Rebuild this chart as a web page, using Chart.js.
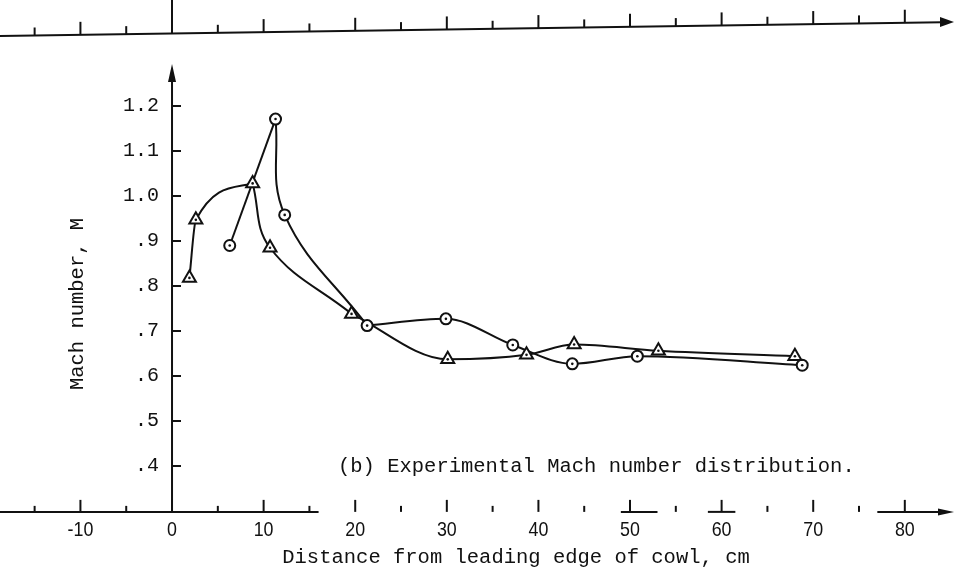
<!DOCTYPE html>
<html>
<head>
<meta charset="utf-8">
<script src="https://cdn.jsdelivr.net/npm/chart.js@4.4.1/dist/chart.umd.min.js"></script>
<style>
    html, body { margin: 0; padding: 0; background: #fff; }
    #wrap { width: 954px; height: 572px; }
</style>
</head>
<body>
<div id="wrap"><canvas id="machChart" width="954" height="572"></canvas></div>
<script>
// triangles
const triDist = [1.9, 2.6, 8.8, 10.7, 19.6, 30.1, 38.7, 43.9, 53.1, 68.0];
const triMach = [0.818, 0.947, 1.028, 0.885, 0.738, 0.637, 0.647, 0.670, 0.656, 0.644];
// circles
const cirDist = [6.3, 11.3, 12.3, 21.3, 29.9, 37.2, 43.7, 50.8, 68.8];
const cirMach = [0.890, 1.171, 0.958, 0.712, 0.727, 0.669, 0.627, 0.644, 0.624];

const xTickValues = [-10, 0, 10, 20, 30, 40, 50, 60, 70, 80];
const yTickValues = [0.4, 0.5, 0.6, 0.7, 0.8, 0.9, 1.0, 1.1, 1.2];
const yTickLabels = ['.4', '.5', '.6', '.7', '.8', '.9', '1.0', '1.1', '1.2'];

const xTitle = 'Distance from leading edge of cowl, cm';
const yTitle = 'Mach number, M';
const note = '(b) Experimental Mach number distribution.';

const INK = '#111';
const MONO = '"Liberation Mono", "DejaVu Sans Mono", monospace';
const AXIS_LEVEL = 0.298;   // Mach value where the distance axis sits

const pts = (xs, ys) => xs.map((x, i) => ({ x: x, y: ys[i] }));
const triPts = pts(triDist, triMach);
const cirPts = pts(cirDist, cirMach);

// the hand-drawn curves have corners at some points, so each one is split in pieces
const lineSet = (data, spline) => ({
    data: data,
    showLine: true,
    borderColor: INK,
    borderWidth: 2,
    pointRadius: 0,
    cubicInterpolationMode: spline ? 'default' : 'monotone',
    tension: spline ? 0.4 : 0,
    order: 3
});

function line(ctx, x1, y1, x2, y2) {
    ctx.beginPath();
    ctx.moveTo(x1, y1);
    ctx.lineTo(x2, y2);
    ctx.stroke();
}

function arrowHead(ctx, tx, ty, dir, len, half) {
    ctx.beginPath();
    if (dir === 'up') {
        ctx.moveTo(tx, ty);
        ctx.lineTo(tx - half, ty + len);
        ctx.lineTo(tx + half, ty + len);
    } else {
        ctx.moveTo(tx, ty);
        ctx.lineTo(tx - len, ty - half);
        ctx.lineTo(tx - len, ty + half);
    }
    ctx.closePath();
    ctx.fill();
}

const decor = {
    id: 'decor',
    beforeDatasetsDraw(chart) {
        const { ctx, width } = chart;
        const xs = chart.scales.x, ys = chart.scales.y;
        const x0 = xs.getPixelForValue(0);
        const yBase = ys.getPixelForValue(AXIS_LEVEL);

        ctx.save();
        ctx.strokeStyle = INK;
        ctx.fillStyle = INK;
        ctx.lineWidth = 2;

        // slanted axis of the panel above
        const topY = px => 36 - (px / width) * 14;
        line(ctx, 0, topY(0), width - 12, topY(width - 12));
        arrowHead(ctx, width, topY(width), 'right', 14, 5);
        for (let v = -15; v <= 80; v += 5) {
            const px = xs.getPixelForValue(v);
            const len = v === 0 ? topY(px) : (v % 10 === 0 ? 13 : 8);
            line(ctx, px, topY(px), px, topY(px) - len);
        }

        // Mach axis
        line(ctx, x0, 78, x0, yBase);
        arrowHead(ctx, x0, 64, 'up', 18, 4);
        ctx.font = '20px ' + MONO;
        ctx.textAlign = 'right';
        ctx.textBaseline = 'middle';
        yTickValues.forEach((v, i) => {
            const py = ys.getPixelForValue(v);
            line(ctx, x0, py, x0 + 9, py);
            ctx.fillText(yTickLabels[i], x0 - 13, py);
        });

        // distance axis (broken in the scan)
        [[-19, 16], [49, 53], [58.5, 61.5], [77, 84]].forEach(s => {
            line(ctx, xs.getPixelForValue(s[0]), yBase, xs.getPixelForValue(s[1]), yBase);
        });
        arrowHead(ctx, width, yBase, 'right', 16, 3.5);
        for (let v = -15; v <= 80; v += 5) {
            const px = xs.getPixelForValue(v);
            line(ctx, px, yBase, px, yBase - (v % 10 === 0 ? 12 : 6));
        }
        ctx.textAlign = 'center';
        xTickValues.forEach(v => {
            const px = xs.getPixelForValue(v);
            ctx.save();
            ctx.translate(px, yBase + 18);
            ctx.scale(0.85, 1);
            ctx.font = '21px "Liberation Sans", Arial, sans-serif';
            ctx.fillText(String(v), 0, 0);
            ctx.restore();
        });

        // titles
        ctx.font = '20.5px ' + MONO;
        ctx.textBaseline = 'alphabetic';
        ctx.textAlign = 'center';
        ctx.fillText(xTitle, 516, 563);
        ctx.textAlign = 'left';
        ctx.fillText(note, 338, 472);

        ctx.save();
        ctx.translate(83, 304);
        ctx.rotate(-Math.PI / 2);
        ctx.textAlign = 'center';
        ctx.fillText(yTitle, 0, 0);
        ctx.restore();

        ctx.restore();
    }
};

new Chart(document.getElementById('machChart'), {
    type: 'scatter',
    data: {
        datasets: [
            lineSet(triPts.slice(0, 3), false),
            lineSet(triPts.slice(2, 5), true),
            lineSet(triPts.slice(4), false),
            lineSet(cirPts.slice(0, 2), false),
            lineSet(cirPts.slice(1, 4), true),
            lineSet(cirPts.slice(3), false),
            {
                data: triPts,
                pointStyle: 'triangle',
                pointRadius: 7.5,
                pointBorderWidth: 2,
                borderColor: INK,
                backgroundColor: '#fff',
                order: 2
            },
            {
                data: cirPts,
                pointStyle: 'circle',
                pointRadius: 5.5,
                pointBorderWidth: 2,
                borderColor: INK,
                backgroundColor: '#fff',
                order: 2
            },
            {
                data: triPts.concat(cirPts),
                pointRadius: 1.3,
                pointBorderWidth: 0,
                backgroundColor: INK,
                borderColor: INK,
                order: 1
            }
        ]
    },
    options: {
        responsive: false,
        animation: false,
        layout: { padding: 0, autoPadding: false },
        plugins: { legend: { display: false }, tooltip: { enabled: false } },
        scales: {
            x: { type: 'linear', min: -18.78, max: 85.37, display: false },
            y: { type: 'linear', min: 0.1644, max: 1.4356, display: false }
        }
    },
    plugins: [decor]
});
</script>
</body>
</html>
